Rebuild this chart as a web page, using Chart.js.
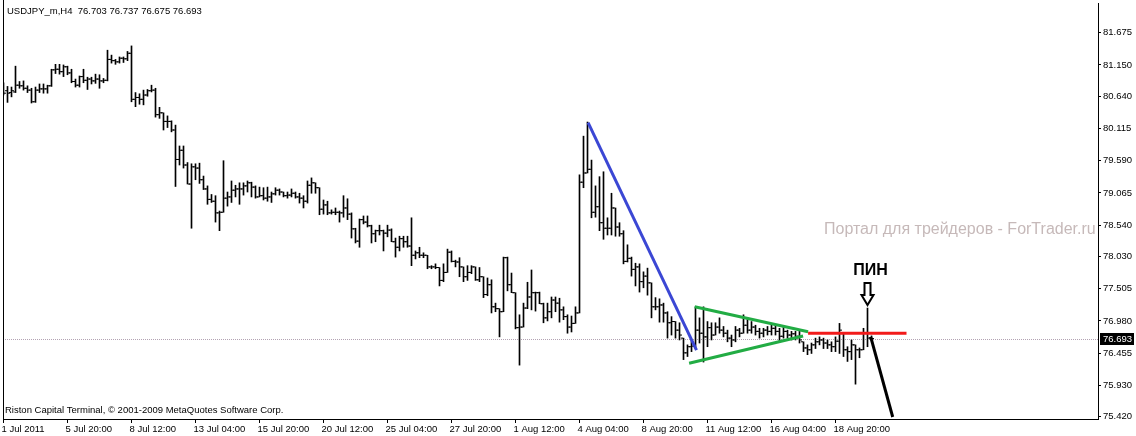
<!DOCTYPE html>
<html>
<head>
<meta charset="utf-8">
<script src="https://cdn.jsdelivr.net/npm/chart.js@4.4.0/dist/chart.umd.min.js"></script>
<style>
html, body { margin: 0; padding: 0; background: #fff; }
#wrap { width: 1136px; height: 436px; position: relative; }
</style>
</head>
<body>
<div id="wrap"><canvas id="chart"></canvas></div>
<script>
const symbolTitle = "USDJPY_m,H4  76.703 76.737 76.675 76.693";
const copyright = "Riston Capital Terminal, \u00a9 2001-2009 MetaQuotes Software Corp.";
const watermark = "Портал для трейдеров - ForTrader.ru";
const pinLabel = "ПИН";

// one label every 16 bars (H4)
const timeLabels = ["1 Jul 2011", "5 Jul 20:00", "8 Jul 12:00", "13 Jul 04:00", "15 Jul 20:00",
  "20 Jul 12:00", "25 Jul 04:00", "27 Jul 20:00", "1 Aug 12:00", "4 Aug 04:00",
  "8 Aug 20:00", "11 Aug 12:00", "16 Aug 04:00", "18 Aug 20:00"];
const labelStep = 16;

const priceTicks = [81.675, 81.150, 80.640, 80.115, 79.590, 79.065, 78.540, 78.030,
  77.505, 76.980, 76.455, 75.930, 75.420];

const opens = [
  80.71,80.73,80.70,80.71,80.82,80.81,80.77,80.74,80.55,80.74,80.76,80.76,80.81,81.07,81.08,81.04,
  81.12,81.02,80.88,80.82,80.96,80.90,80.92,80.89,80.92,80.89,80.90,81.24,81.22,81.20,81.26,81.25,
  81.34,80.59,80.62,80.59,80.66,80.73,80.74,80.34,80.37,80.23,80.23,80.09,79.61,79.76,79.52,79.21,
  79.49,79.47,79.28,79.13,78.96,78.93,78.74,78.75,78.98,79.00,79.11,79.13,79.13,79.18,79.23,79.16,
  79.00,79.02,78.98,79.00,79.05,79.11,79.08,79.02,79.03,79.06,79.00,78.98,78.93,79.19,79.23,79.15,
  78.80,78.87,78.74,78.75,78.75,78.74,78.82,78.72,78.48,78.28,78.63,78.59,78.53,78.40,78.45,78.45,
  78.41,78.46,78.27,78.18,78.32,78.27,78.20,78.05,78.09,78.05,78.05,77.86,77.86,77.85,77.64,77.77,
  78.10,77.95,77.94,77.86,77.70,77.77,77.86,77.65,77.70,77.41,77.57,77.21,77.18,77.13,78.01,77.57,
  77.44,76.87,76.88,77.19,77.37,77.44,77.44,77.26,77.03,77.13,77.32,77.27,77.16,77.05,76.88,76.94,
  77.11,79.24,79.39,79.45,78.75,78.84,78.58,78.49,78.49,78.82,78.51,78.40,77.95,78.00,77.82,77.86,
  77.62,77.71,77.60,77.21,77.21,77.24,77.11,76.95,76.97,76.83,76.70,76.46,76.56,76.57,76.83,76.78,
  76.72,76.87,76.75,76.88,76.83,76.78,76.70,76.67,76.83,76.78,76.91,76.83,76.88,76.81,76.78,76.83,
  76.81,76.86,76.81,76.73,76.81,76.75,76.77,76.73,76.64,76.54,76.51,76.59,76.64,76.67,76.62,76.59,
  76.56,76.65,76.78,76.51,76.48,76.59,76.51,76.51,76.78,76.703
];
const highs = [
  80.86,80.80,80.79,81.13,80.88,80.89,80.81,80.77,80.79,80.84,80.84,80.82,81.08,81.16,81.16,81.15,
  81.13,81.08,80.92,80.97,81.08,80.95,80.95,81.00,80.99,80.93,81.39,81.31,81.24,81.28,81.28,81.37,
  81.46,80.70,80.68,80.74,80.75,80.82,80.77,80.46,80.37,80.32,80.24,80.17,79.83,79.83,79.56,79.54,
  79.54,79.55,79.34,79.18,79.04,79.02,78.77,79.59,79.08,79.26,79.19,79.23,79.23,79.26,79.24,79.18,
  79.16,79.15,79.16,79.08,79.15,79.13,79.08,79.08,79.13,79.08,79.06,79.02,79.26,79.31,79.23,79.15,
  78.95,78.93,78.79,78.82,78.77,79.02,78.97,78.74,78.49,78.64,78.69,78.69,78.54,78.46,78.54,78.46,
  78.54,78.48,78.33,78.36,78.36,78.36,78.66,78.12,78.18,78.09,78.05,77.88,77.91,77.85,77.91,78.15,
  78.12,77.97,78.01,77.86,77.88,77.88,77.86,77.85,77.70,77.68,77.65,77.27,77.18,78.02,78.02,77.76,
  77.44,77.08,77.27,77.61,77.81,77.45,77.45,77.27,77.27,77.37,77.37,77.35,77.21,77.08,77.06,77.21,
  79.36,79.99,80.22,79.60,79.18,79.33,79.41,78.66,79.06,78.82,78.58,78.45,78.22,78.02,77.92,77.91,
  77.78,77.84,77.60,77.36,77.34,77.27,77.13,77.05,76.97,76.95,76.70,76.59,76.67,77.21,77.03,77.21,
  76.97,76.95,76.95,77.03,76.89,76.83,76.75,76.89,76.86,77.08,77.03,76.97,76.91,76.86,76.86,76.89,
  76.94,76.91,76.86,76.89,76.83,76.81,76.81,76.81,76.64,76.59,76.62,76.70,76.72,76.70,76.67,76.64,
  76.72,76.94,76.78,76.56,76.67,76.59,76.54,76.86,77.19,76.737
];
const lows = [
  80.66,80.54,80.63,80.70,80.77,80.74,80.70,80.53,80.54,80.70,80.69,80.69,80.80,81.01,81.00,80.96,
  80.99,80.86,80.79,80.79,80.86,80.75,80.84,80.85,80.77,80.86,80.89,81.18,81.16,81.18,81.19,81.22,
  80.55,80.47,80.51,80.50,80.64,80.71,80.30,80.28,80.09,80.13,80.06,79.17,79.52,79.47,79.21,78.49,
  79.28,79.22,79.12,78.88,78.91,78.59,78.45,78.75,78.85,78.91,79.00,78.88,79.03,79.08,79.00,78.98,
  79.00,78.95,78.93,78.91,79.03,79.03,79.00,78.98,79.00,78.98,78.90,78.82,78.90,79.06,79.06,78.71,
  78.72,78.71,78.72,78.71,78.59,78.67,78.63,78.33,78.25,78.18,78.56,78.51,78.25,78.27,78.38,78.12,
  78.35,78.27,78.02,78.12,78.18,78.18,77.88,77.99,78.01,78.01,77.83,77.83,77.83,77.55,77.62,77.77,
  77.94,77.86,77.70,77.62,77.64,77.75,77.64,77.62,77.36,77.39,77.11,77.13,76.72,77.13,77.47,77.44,
  76.85,76.26,76.88,77.18,77.16,77.14,77.26,76.95,76.98,77.03,77.13,76.96,77.00,76.78,76.80,76.94,
  77.11,79.15,79.39,78.66,78.67,78.45,78.31,78.38,78.38,78.36,78.36,77.91,77.94,77.71,77.55,77.45,
  77.52,77.40,77.03,77.16,76.96,76.96,76.70,76.75,76.70,76.67,76.35,76.40,76.48,76.53,76.62,76.31,
  76.56,76.67,76.75,76.78,76.72,76.64,76.56,76.64,76.72,76.78,76.78,76.78,76.75,76.70,76.72,76.75,
  76.75,76.75,76.64,76.70,76.70,76.67,76.67,76.62,76.48,76.43,76.45,76.53,76.59,76.53,76.53,76.48,
  76.48,76.45,76.40,76.32,76.35,75.95,76.38,76.51,76.56,76.675
];
const closes = [
  80.69,80.69,80.73,80.82,80.81,80.77,80.74,80.55,80.74,80.76,80.76,80.81,81.07,81.08,81.04,81.12,
  81.02,80.88,80.82,80.96,80.90,80.92,80.89,80.92,80.89,80.90,81.24,81.22,81.20,81.26,81.25,81.34,
  80.59,80.62,80.59,80.66,80.73,80.74,80.34,80.37,80.23,80.23,80.09,79.61,79.76,79.52,79.21,79.49,
  79.47,79.28,79.13,78.96,78.93,78.74,78.75,78.98,79.00,79.11,79.13,79.13,79.18,79.23,79.16,79.00,
  79.02,78.98,79.00,79.05,79.11,79.08,79.02,79.03,79.06,79.00,78.98,78.93,79.19,79.23,79.15,78.80,
  78.87,78.74,78.75,78.75,78.74,78.82,78.72,78.48,78.28,78.63,78.59,78.53,78.40,78.45,78.45,78.41,
  78.46,78.27,78.18,78.32,78.27,78.20,78.05,78.09,78.05,78.05,77.86,77.86,77.85,77.64,77.77,78.10,
  77.95,77.94,77.86,77.70,77.77,77.86,77.65,77.70,77.41,77.57,77.21,77.18,77.13,78.01,77.57,77.44,
  76.87,76.88,77.19,77.37,77.44,77.44,77.26,77.03,77.13,77.32,77.27,77.16,77.05,76.88,76.94,77.11,
  79.24,79.39,79.45,78.75,78.84,78.58,78.49,78.49,78.82,78.51,78.40,77.95,78.00,77.82,77.86,77.62,
  77.71,77.60,77.21,77.21,77.24,77.11,76.95,76.97,76.83,76.75,76.46,76.56,76.57,76.83,76.78,76.72,
  76.87,76.75,76.88,76.83,76.78,76.70,76.67,76.83,76.78,76.91,76.83,76.88,76.81,76.78,76.83,76.81,
  76.86,76.81,76.73,76.81,76.75,76.77,76.73,76.67,76.54,76.51,76.59,76.64,76.67,76.62,76.59,76.56,
  76.65,76.83,76.51,76.48,76.59,76.51,76.51,76.78,76.70,76.693
];

// hand-drawn objects on the chart: [bar index, price]
const blueLine = [[146.15, 80.209], [173.25, 76.506]];
const greenUpper = [[172.8, 77.212], [201.15, 76.805]];
const greenLower = [[171.4, 76.290], [199.9, 76.735]];
const redLine = [[201.15, 76.779], [225.75, 76.779]];
const blackLine = [[216.8, 76.719], [222.3, 75.415]];
const pinBar = 216;

const idx = opens.map((_, i) => i);
const toPts = arr => arr.map(p => ({ x: p[0], y: p[1] }));
const FONT = '"Liberation Sans", Arial, sans-serif';

function trend(points, color, width) {
  return {
    type: 'line', data: toPts(points), borderColor: color, borderWidth: width,
    pointRadius: 0, fill: false, order: 0, clip: false
  };
}

const overlay = {
  id: 'overlay',
  beforeDatasetsDraw(chart) {
    const { ctx, chartArea: a, scales } = chart;
    ctx.save();
    // watermark
    ctx.font = '16px ' + FONT;
    ctx.fillStyle = '#c6b9b9';
    ctx.textBaseline = 'middle';
    ctx.textAlign = 'left';
    ctx.fillText(watermark, 824, 230);
    // current price dotted line
    const yc = Math.round(scales.y.getPixelForValue(closes[closes.length - 1])) + 0.5;
    ctx.strokeStyle = '#b3a3b3';
    ctx.lineWidth = 1;
    ctx.setLineDash([1, 1]);
    ctx.beginPath();
    ctx.moveTo(a.left, yc);
    ctx.lineTo(a.right, yc);
    ctx.stroke();
    ctx.restore();
  },
  afterDraw(chart) {
    const { ctx, chartArea: a, scales } = chart;
    ctx.save();
    // left frame line
    ctx.strokeStyle = '#000';
    ctx.lineWidth = 1;
    ctx.beginPath();
    ctx.moveTo(a.left + 0.5, a.bottom);
    ctx.lineTo(a.left + 0.5, 0);
    ctx.stroke();

    ctx.fillStyle = '#000';
    ctx.font = '9.5px ' + FONT;
    ctx.textBaseline = 'middle';
    ctx.textAlign = 'left';
    ctx.fillText(symbolTitle, 7, 11);
    ctx.fillText(copyright, 5, 410);

    // axis labels
    priceTicks.forEach(v => {
      ctx.fillText(v.toFixed(3), a.right + 5, scales.y.getPixelForValue(v));
    });
    timeLabels.forEach((t, k) => {
      ctx.fillText(t, scales.x.getPixelForValue(k * labelStep) - 2, a.bottom + 10);
    });

    // current price label on the axis
    const last = closes[closes.length - 1];
    const yc = Math.round(scales.y.getPixelForValue(last));
    ctx.fillStyle = '#000';
    ctx.fillRect(a.right + 2, yc - 6, 34, 12);
    ctx.fillStyle = '#fff';
    ctx.fillText(last.toFixed(3), a.right + 5, yc);

    // pin label and arrow
    const px = scales.x.getPixelForValue(pinBar);
    const tip = scales.y.getPixelForValue(highs[pinBar]) - 3;
    ctx.fillStyle = '#000';
    ctx.font = 'bold 16px ' + FONT;
    ctx.textAlign = 'center';
    ctx.fillText(pinLabel, px + 3, tip - 34);
    ctx.beginPath();
    ctx.moveTo(px - 3, tip - 22);
    ctx.lineTo(px + 3, tip - 22);
    ctx.lineTo(px + 3, tip - 10);
    ctx.lineTo(px + 6, tip - 10);
    ctx.lineTo(px, tip);
    ctx.lineTo(px - 6, tip - 10);
    ctx.lineTo(px - 3, tip - 10);
    ctx.closePath();
    ctx.fillStyle = '#fff';
    ctx.fill();
    ctx.lineWidth = 2;
    ctx.strokeStyle = '#000';
    ctx.stroke();
    ctx.restore();
  }
};

new Chart(document.getElementById('chart'), {
  type: 'scatter',
  data: {
    datasets: [
      trend(blueLine, '#3b47d4', 3),
      trend(greenUpper, '#22ac44', 3),
      trend(greenLower, '#22ac44', 3),
      trend(redLine, '#f21a1a', 3),
      trend(blackLine, '#000000', 3),
      {
        type: 'scatter', data: idx.map(i => ({ x: i - 0.375, y: opens[i] })),
        pointStyle: 'line', pointRadius: 1, pointHoverRadius: 1, borderColor: '#000', borderWidth: 1, order: 1
      },
      {
        type: 'scatter', data: idx.map(i => ({ x: i + 0.375, y: closes[i] })),
        pointStyle: 'line', pointRadius: 1, pointHoverRadius: 1, borderColor: '#000', borderWidth: 1, order: 1
      },
      {
        type: 'bar', data: idx.map(i => ({ x: i, y: [lows[i], highs[i]] })),
        backgroundColor: '#000', borderWidth: 0, barThickness: 1, order: 2
      }
    ]
  },
  options: {
    responsive: true,
    maintainAspectRatio: false,
    animation: false,
    events: [],
    layout: { padding: { left: 3, top: 3, right: 0, bottom: 0 } },
    plugins: { legend: { display: false }, tooltip: { enabled: false } },
    scales: {
      x: {
        type: 'linear',
        offset: false,
        min: -0.125,
        max: 273.625,
        afterBuildTicks: s => { s.ticks = timeLabels.map((_, k) => ({ value: k * labelStep })); },
        afterFit: s => { s.height = 17; },
        ticks: { display: false },
        grid: { offset: false, drawOnChartArea: false, drawTicks: true, tickLength: 4, color: '#000' },
        border: { display: true, color: '#000', width: 1 }
      },
      y: {
        type: 'linear',
        position: 'right',
        offset: false,
        min: 75.3825,
        max: 82.159,
        afterBuildTicks: s => { s.ticks = priceTicks.map(v => ({ value: v })); },
        afterFit: s => { s.width = 38; },
        ticks: { display: false },
        grid: { drawOnChartArea: false, drawTicks: true, tickLength: 3, color: '#000' },
        border: { display: true, color: '#000', width: 1 }
      }
    }
  },
  plugins: [overlay]
});
</script>
</body>
</html>
